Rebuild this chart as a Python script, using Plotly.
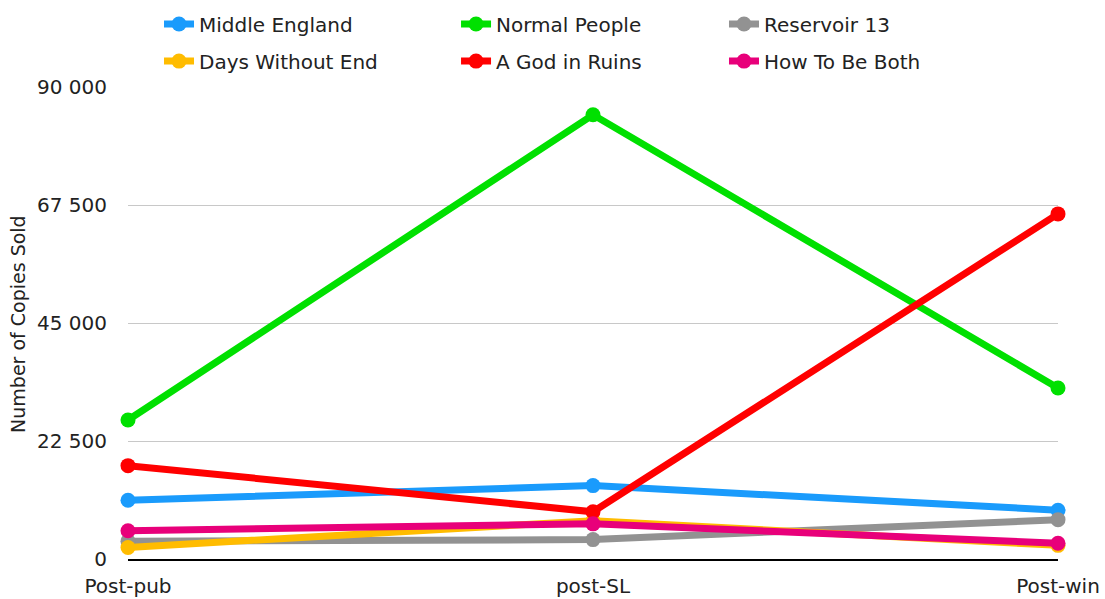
import plotly.graph_objects as go

categories = ["Post-pub", "post-SL", "Post-win"]
middle_england = [11200, 14000, 9300]
normal_people = [26500, 84700, 32600]
reservoir_13 = [3400, 3700, 7500]
days_without_end = [2200, 7300, 2600]
god_in_ruins = [17800, 9000, 65800]
how_to_be_both = [5400, 6700, 3000]

series_names = ["Middle England", "Normal People", "Reservoir 13",
                "Days Without End", "A God in Ruins", "How To Be Both"]
series_values = [middle_england, normal_people, reservoir_13,
                 days_without_end, god_in_ruins, how_to_be_both]
series_colors = ["#1A9BFC", "#00E000", "#929292", "#FFBC00", "#FF0000", "#E8007A"]

y_tickvals = [0, 22500, 45000, 67500, 90000]
y_ticktext = ["0", "22 500", "45 000", "67 500", "90 000"]
y_title = "Number of Copies Sold"

FONT = "DejaVu Sans"
TXT = "#222222"

# legend slot for each series: (x, y) in container fractions (3 columns x 2 rows)
legend_cols = [0.1439, 0.4127, 0.6552]
legend_rows = [0.960, 0.898]

fig = go.Figure()
layout_legends = {}
for i, (name, vals, col) in enumerate(zip(series_names, series_values, series_colors)):
    key = "legend" if i == 0 else f"legend{i + 1}"
    fig.add_trace(go.Scatter(
        x=categories, y=vals, name=name, mode="lines+markers",
        line=dict(color=col, width=7),
        marker=dict(color=col, size=15),
        cliponaxis=False, legend=key,
    ))
    layout_legends[key] = dict(
        x=legend_cols[i % 3], y=legend_rows[i // 3],
        xref="container", yref="container",
        xanchor="left", yanchor="middle",
        bgcolor="rgba(0,0,0,0)",
        font=dict(family=FONT, size=20, color=TXT),
        itemclick=False, itemdoubleclick=False,
    )

fig.add_annotation(
    text=y_title, textangle=-90, xref="paper", yref="paper",
    x=-0.1183, y=0.498, xanchor="center", yanchor="middle", showarrow=False,
    font=dict(family=FONT, size=19, color=TXT),
)

fig.update_layout(
    width=1105, height=599,
    margin=dict(l=128, r=47, t=87, b=40, autoexpand=False),
    paper_bgcolor="white", plot_bgcolor="white",
    font=dict(family=FONT, size=20, color=TXT),
    showlegend=True,
    xaxis=dict(
        type="category", range=[0, 2], showgrid=False, zeroline=False,
        showline=True, linecolor="black", linewidth=2, ticks="",
        ticklabelstandoff=8, automargin=False,
        tickfont=dict(family=FONT, size=20, color=TXT),
    ),
    yaxis=dict(
        range=[0, 90000], tickvals=y_tickvals, ticktext=y_ticktext,
        showgrid=True, gridcolor="#C8C8C8", gridwidth=1,
        zeroline=False, showline=False, ticks="",
        ticklabelstandoff=20, automargin=False,
        tickfont=dict(family=FONT, size=20, color=TXT),
    ),
    **layout_legends,
)

fig.write_html("out.html")
